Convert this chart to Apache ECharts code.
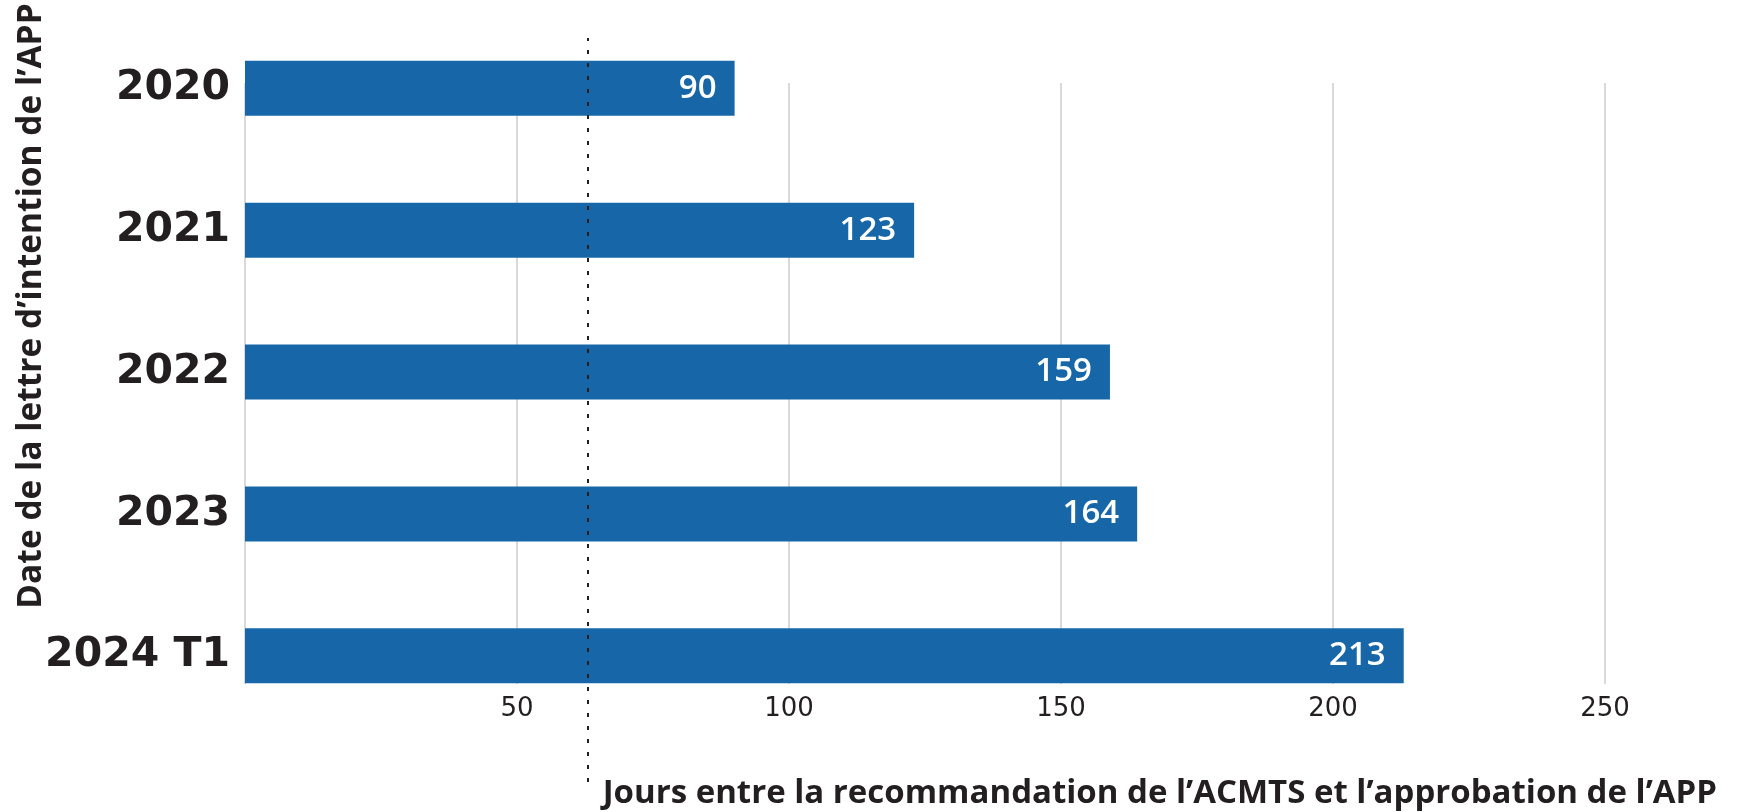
<!DOCTYPE html>
<html>
<head>
<meta charset="utf-8">
<script src="https://cdn.jsdelivr.net/npm/echarts@6/dist/echarts.min.js"></script>
<style>
html,body{margin:0;padding:0;background:#fff;}
#chart{width:1744px;height:812px;}
</style>
</head>
<body>
<div id="chart"></div>
<script>
const categories = ['2020', '2021', '2022', '2023', '2024 T1'];
const days = [90, 123, 159, 164, 213];
const referenceDays = [63];
const tickMax = 250;
const tickInterval = 50;
const yTitle = "Date de la lettre d\u2019intention de l\u2019APP";
const xTitle = "Jours entre la recommandation de l\u2019ACMTS et l\u2019approbation de l\u2019APP";

const dark = '#231f20';
const chart = echarts.init(document.getElementById('chart'));
const L = 245, R = 139;
chart.setOption({
  animation: false,
  backgroundColor: '#ffffff',
  title: {
    text: xTitle,
    right: 22,
    top: 772,
    textStyle: { fontFamily: 'Open Sans', fontWeight: 'bold', fontSize: 33, color: dark }
  },
  graphic: [{
    type: 'text',
    x: 31, y: 306,
    rotation: Math.PI / 2,
    style: {
      text: yTitle,
      fontFamily: 'Open Sans', fontWeight: 'bold', fontSize: 33.5, fill: dark,
      align: 'center', verticalAlign: 'middle'
    }
  }],
  grid: [
    { left: L, right: R, top: 83, bottom: 128 },
    { left: L, right: R, top: 17.4, bottom: 85.3 },
    { left: L, right: R, top: 38, bottom: 30 }
  ],
  xAxis: [
    {
      gridIndex: 0, type: 'value', min: 0, max: tickMax, interval: tickInterval,
      axisLine: { show: false }, axisTick: { show: false },
      splitLine: { show: true, lineStyle: { color: '#d9d9d9', width: 2 } },
      axisLabel: {
        margin: 12, fontFamily: 'DejaVu Sans', fontSize: 26, color: dark,
        formatter: v => (v === 0 ? '' : String(v))
      }
    },
    { gridIndex: 1, type: 'value', min: 0, max: tickMax, show: false },
    { gridIndex: 2, type: 'value', min: 0, max: tickMax, show: false }
  ],
  yAxis: [
    { gridIndex: 0, type: 'value', show: false },
    {
      gridIndex: 1, type: 'category', data: categories, inverse: true,
      axisLine: { show: false }, axisTick: { show: false },
      axisLabel: { margin: 15, fontFamily: 'DejaVu Sans', fontWeight: 'bold', fontSize: 41, color: dark }
    },
    { gridIndex: 2, type: 'value', show: false }
  ],
  series: [
    {
      type: 'bar', xAxisIndex: 1, yAxisIndex: 1, data: days, barWidth: 55,
      itemStyle: { color: '#1767a8' },
      label: {
        show: true, position: 'insideRight', distance: 18,
        fontFamily: 'Open Sans', fontWeight: 600, fontSize: 33, color: '#ffffff'
      }
    },
    {
      type: 'scatter', xAxisIndex: 2, yAxisIndex: 2, data: [],
      markLine: {
        silent: true, symbol: 'none', label: { show: false },
        lineStyle: { color: dark, type: [4, 9], width: 2 },
        data: referenceDays.map(v => ({ xAxis: v }))
      }
    }
  ]
});
</script>
</body>
</html>
